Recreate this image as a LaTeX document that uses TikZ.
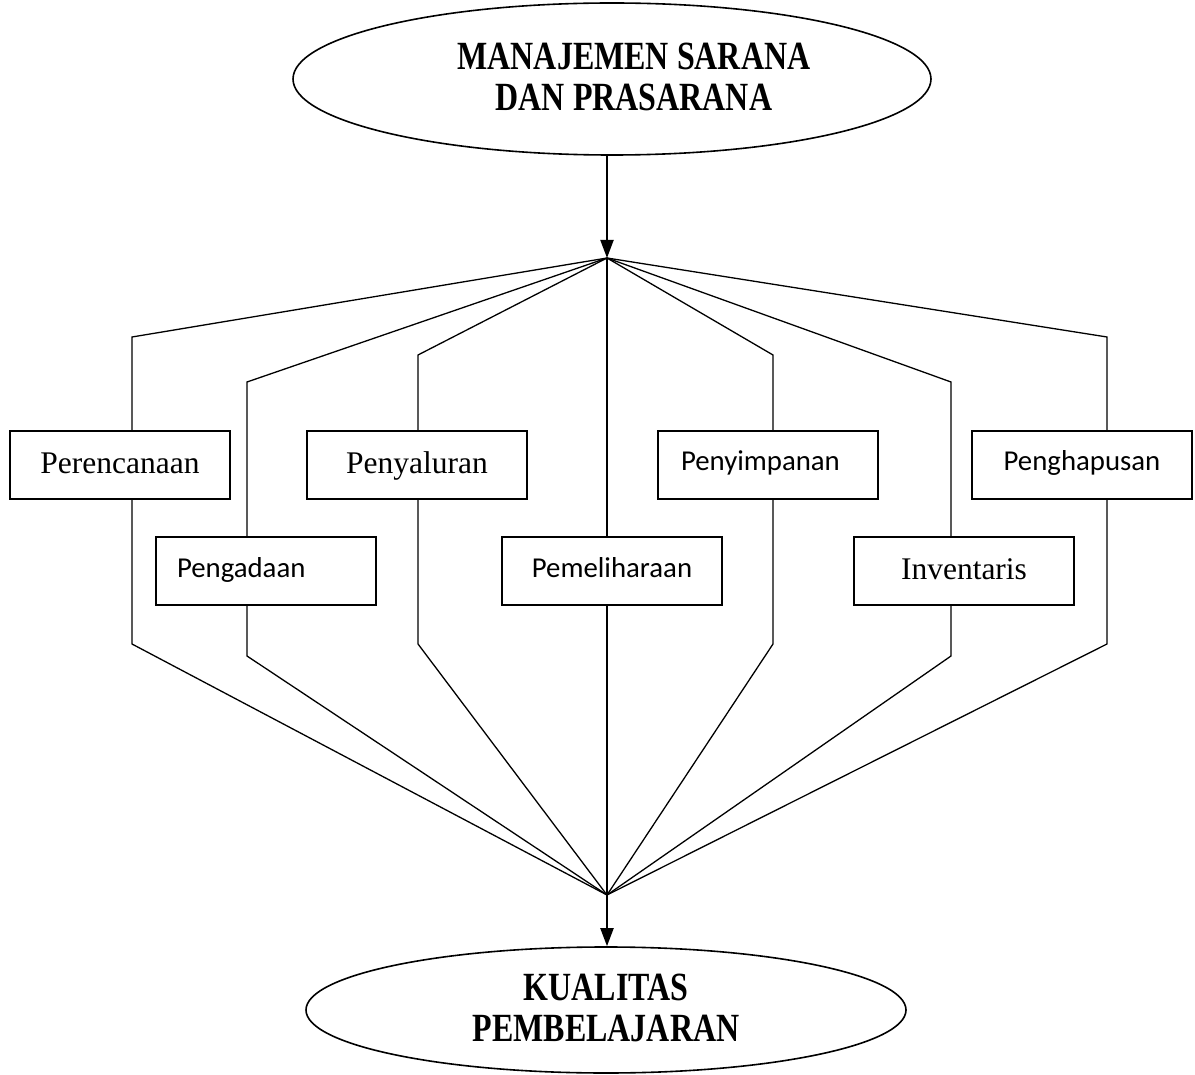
\documentclass[tikz,border=0pt]{standalone}
\usepackage{fontspec}
\setmainfont{Liberation Serif}
\newfontfamily\calibri{Carlito}
\usetikzlibrary{shapes.geometric,arrows.meta}
\begin{document}
\begin{tikzpicture}[x=1pt,y=-1pt,
  oval/.style={draw,ellipse,line width=1.6pt,inner sep=0pt},
  box/.style={draw,line width=1.6pt,minimum width=220pt,minimum height=68pt,inner sep=0pt},
  tms/.style={font=\fontsize{31.5}{36}\selectfont,text height=23pt,text depth=7pt},
  cal/.style={font=\calibri\fontsize{28.8}{34}\selectfont,text height=22pt,text depth=10pt},
  ttl/.style={font=\bfseries\fontsize{32}{41}\selectfont,align=center,inner sep=0pt},
  link/.style={line width=1.3pt},
  arr/.style={line width=2pt,-{Triangle[length=18pt,width=13pt]}}]
\useasboundingbox (0,0) rectangle (1195,1075);

% top and bottom ellipses
\node[oval,minimum width=638pt,minimum height=152pt] (top) at (612,79) {};
\node[ttl] (toptxt) at (634,77) {\scalebox{1}[1.25]{MANAJEMEN SARANA}\\\scalebox{1}[1.25]{DAN PRASARANA}};
\node[oval,minimum width=600pt,minimum height=126pt] (bot) at (606,1010) {};
\node[ttl] (bottxt) at (606,1008) {\scalebox{1}[1.25]{KUALITAS}\\\scalebox{1}[1.25]{PEMBELAJARAN}};

% junction points
\coordinate (apex) at (607,258);
\coordinate (conv) at (607,895);

% boxes
\node[box,tms] (perenc) at (120,465) {Perencanaan};
\node[box,tms] (penyal) at (417,465) {Penyaluran};
\node[box,cal] (penyim) at (768,465) {\makebox[174pt][l]{Penyimpanan}};
\node[box,cal] (penghap) at (1082,465) {Penghapusan};
\node[box,cal] (pengad) at (266,571) {\makebox[178pt][l]{Pengadaan}};
\node[box,cal] (pemel) at (612,571) {Pemeliharaan};
\node[box,tms] (invent) at (964,571) {Inventaris};

% upper bend points
\coordinate (u1) at (132,337);
\coordinate (u2) at (247,382);
\coordinate (u3) at (418,355);
\coordinate (u5) at (773,355);
\coordinate (u6) at (951,382);
\coordinate (u7) at (1107,337);
% lower bend points
\coordinate (d1) at (132,644);
\coordinate (d2) at (247,656);
\coordinate (d3) at (418,644);
\coordinate (d5) at (773,644);
\coordinate (d6) at (951,656);
\coordinate (d7) at (1107,644);

% arrows
\draw[arr] (top.south -| apex) -- (apex);
\draw[arr] (conv) -- (bot.north -| conv);

% fan out
\draw[link] (apex) -- (u1) -- (u1 |- perenc.north);
\draw[link] (apex) -- (u2) -- (u2 |- pengad.north);
\draw[link] (apex) -- (u3) -- (u3 |- penyal.north);
\draw[link] (apex) -- (apex |- pemel.north);
\draw[link] (apex) -- (u5) -- (u5 |- penyim.north);
\draw[link] (apex) -- (u6) -- (u6 |- invent.north);
\draw[link] (apex) -- (u7) -- (u7 |- penghap.north);

% fan in
\draw[link] (d1 |- perenc.south) -- (d1) -- (conv);
\draw[link] (d2 |- pengad.south) -- (d2) -- (conv);
\draw[link] (d3 |- penyal.south) -- (d3) -- (conv);
\draw[link] (conv |- pemel.south) -- (conv);
\draw[link] (d5 |- penyim.south) -- (d5) -- (conv);
\draw[link] (d6 |- invent.south) -- (d6) -- (conv);
\draw[link] (d7 |- penghap.south) -- (d7) -- (conv);
\end{tikzpicture}
\end{document}
